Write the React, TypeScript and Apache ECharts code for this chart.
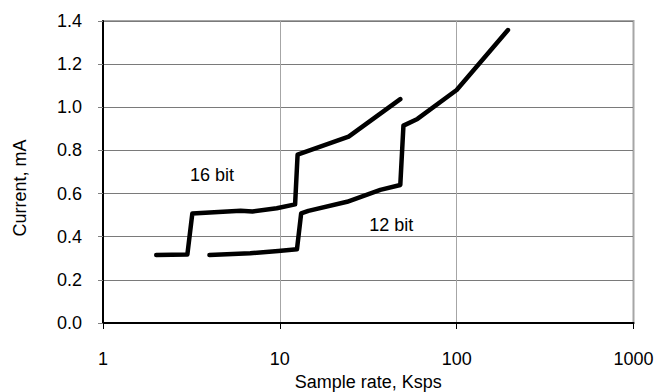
import React, { useEffect, useRef } from "react";
import * as echarts from "echarts";

const bit16: [number, number][] = [
  [2, 0.315], [3, 0.318], [3.2, 0.508], [4.5, 0.515], [6, 0.52], [7, 0.517],
  [9.6, 0.532], [12.2, 0.55], [12.6, 0.78], [24.5, 0.864], [48, 1.038],
];
const bit12: [number, number][] = [
  [4, 0.315], [6.8, 0.323], [9.8, 0.334], [12.5, 0.342], [13.2, 0.508], [14.5, 0.52],
  [24, 0.562], [37, 0.617], [48, 0.64], [50, 0.915], [60, 0.946], [100, 1.08], [195, 1.358],
];
const seriesNames = ["16 bit", "12 bit"];
const labelPos16: [number, number] = [4.14, 0.686];
const labelPos12: [number, number] = [42.7, 0.454];

const FONT = "Liberation Sans, Arial, sans-serif";

export default function App() {
  const ref = useRef<HTMLDivElement>(null);
  useEffect(() => {
    if (!ref.current) return;
    const chart = echarts.init(ref.current, undefined, { renderer: "svg" });
    const mkLabel = (name: string, pos: [number, number]) => ({
      silent: true,
      symbol: "circle",
      symbolSize: 0,
      data: [{ coord: pos, value: name }],
      label: {
        show: true,
        position: "inside",
        formatter: name,
        color: "#000",
        fontSize: 18,
        fontFamily: FONT,
      },
    });
    chart.setOption({
      animation: false,
      backgroundColor: "#fff",
      textStyle: { fontFamily: FONT },
      grid: {
        left: 103,
        right: 24.5,
        top: 21,
        bottom: 69,
        show: true,
        borderColor: "#a6a6a6",
        borderWidth: 2,
        backgroundColor: "transparent",
        containLabel: false,
        outerBoundsMode: "none",
      },
      xAxis: {
        type: "log",
        logBase: 10,
        min: 1,
        max: 1000,
        name: "Sample rate, Ksps",
        nameLocation: "middle",
        nameGap: 48,
        nameTextStyle: { color: "#000", fontSize: 18, fontFamily: FONT },
        axisLine: { show: true, lineStyle: { color: "#000", width: 2 } },
        axisTick: { show: true, length: 6, lineStyle: { color: "#000", width: 1 } },
        minorTick: { show: false },
        axisLabel: {
          color: "#000",
          fontSize: 18,
          fontFamily: FONT,
          margin: 27,
          formatter: (v: number) => String(Math.round(v)),
        },
        splitLine: { show: true, lineStyle: { color: "#a6a6a6", width: 1 } },
      },
      yAxis: {
        type: "value",
        min: 0,
        max: 1.4,
        interval: 0.2,
        name: "Current, mA",
        nameLocation: "middle",
        nameGap: 74,
        nameTextStyle: { color: "#000", fontSize: 18, fontFamily: FONT, padding: [0, 32, 0, 0] },
        axisLine: { show: true, lineStyle: { color: "#000", width: 2 } },
        axisTick: { show: true, length: 5, lineStyle: { color: "#808080", width: 1 } },
        axisLabel: {
          color: "#000",
          fontSize: 18,
          fontFamily: FONT,
          margin: 21,
          formatter: (v: number) => v.toFixed(1),
        },
        splitLine: { show: true, lineStyle: { color: "#7a7a7a", width: 1 } },
      },
      series: [
        {
          name: seriesNames[0],
          type: "line",
          data: bit16,
          symbol: "none",
          lineStyle: { color: "#000", width: 4.5, cap: "round", join: "round" },
          markPoint: mkLabel(seriesNames[0], labelPos16),
        },
        {
          name: seriesNames[1],
          type: "line",
          data: bit12,
          symbol: "none",
          lineStyle: { color: "#000", width: 4.5, cap: "round", join: "round" },
          markPoint: mkLabel(seriesNames[1], labelPos12),
        },
      ],
    });
    return () => chart.dispose();
  }, []);
  return <div ref={ref} style={{ width: 658, height: 392, position: "absolute", left: 0, top: 0 }} />;
}
